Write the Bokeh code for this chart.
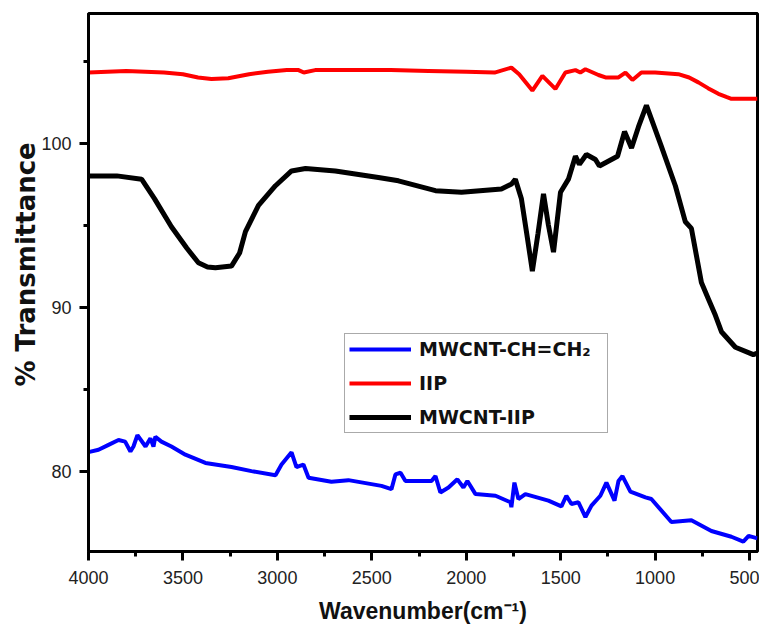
from bokeh.plotting import figure
from bokeh.models import Range1d, Legend, LegendItem, FixedTicker
from bokeh.embed import file_html
from bokeh.resources import INLINE

# ---- data ----
wn_blue = [4000, 3947, 3894, 3841, 3806, 3778, 3762, 3741, 3698, 3672, 3656, 3646, 3614, 3561, 3487,
           3381, 3243, 3137, 3010, 2978, 2925, 2899, 2862, 2835, 2714, 2624, 2449, 2396, 2375, 2348,
           2322, 2184, 2163, 2137, 2094, 2047, 2015, 1994, 1951, 1845, 1766, 1761, 1745, 1724, 1687,
           1565, 1496, 1470, 1443, 1406, 1369, 1337, 1290, 1258, 1215, 1194, 1173, 1131, 1051, 1020,
           914, 808, 702, 596, 533, 505, 458]
t_blue = [81.16, 81.3, 81.6, 81.9, 81.8, 81.2, 81.5, 82.2, 81.5, 82.0, 81.5, 82.1, 81.8, 81.5, 81.0,
          80.5, 80.25, 80.0, 79.75, 80.4, 81.15, 80.25, 80.4, 79.6, 79.35, 79.45, 79.1, 78.9, 79.8, 79.9,
          79.4, 79.4, 79.7, 78.7, 79.0, 79.5, 79.0, 79.4, 78.6, 78.5, 78.1, 77.8, 79.3, 78.3, 78.6,
          78.2, 77.85, 78.5, 78.0, 78.1, 77.2, 77.9, 78.5, 79.3, 78.2, 79.4, 79.7, 78.75, 78.4, 78.3,
          76.9, 77.0, 76.35, 76.0, 75.7, 76.05, 75.9]

wn_red = [4000, 3900, 3800, 3700, 3600, 3500, 3420, 3349, 3260, 3150, 3050, 2950, 2888, 2860, 2800,
          2600, 2400, 2200, 2000, 1850, 1761, 1720, 1650, 1597, 1528, 1475, 1422, 1396, 1369, 1300,
          1263, 1194, 1157, 1120, 1073, 1000, 877, 820, 771, 720, 665, 620, 596, 500, 458]
t_red = [104.3, 104.35, 104.4, 104.35, 104.3, 104.2, 104.0, 103.9, 103.95, 104.2, 104.35, 104.45, 104.45, 104.3, 104.45,
         104.45, 104.45, 104.4, 104.35, 104.3, 104.6, 104.2, 103.2, 104.1, 103.3, 104.3, 104.45, 104.3, 104.5, 104.15,
         104.0, 104.0, 104.3, 103.85, 104.3, 104.3, 104.2, 104.0, 103.7, 103.35, 103.0, 102.8, 102.7, 102.7, 102.7]

wn_black = [4000, 3850, 3719, 3650, 3561, 3480, 3418, 3370, 3328, 3243, 3200, 3169, 3100, 3010, 2925,
            2851, 2693, 2465, 2359, 2163, 2025, 1814, 1760, 1740, 1708, 1680, 1650, 1620, 1591, 1565,
            1538, 1501, 1459, 1422, 1401, 1364, 1316, 1295, 1231, 1199, 1162, 1125, 1088, 1046, 967,
            893, 840, 808, 755, 718, 681, 649, 575, 480, 458]
t_black = [98.0, 98.0, 97.8, 96.6, 94.9, 93.6, 92.7, 92.45, 92.4, 92.5, 93.3, 94.6, 96.2, 97.4, 98.3,
           98.45, 98.3, 97.9, 97.7, 97.1, 97.0, 97.2, 97.5, 97.8, 96.6, 94.5, 92.2, 94.5, 96.9, 95.0,
           93.35, 97.0, 97.8, 99.2, 98.7, 99.3, 99.0, 98.6, 99.0, 99.2, 100.7, 99.7, 101.0, 102.3, 99.8,
           97.4, 95.2, 94.8, 91.5, 90.5, 89.5, 88.5, 87.55, 87.1, 87.2]

labels = ["MWCNT-CH=CH\u2082", "IIP", "MWCNT-IIP"]
x_ticks = [4000, 3500, 3000, 2500, 2000, 1500, 1000, 500]
y_ticks = [80, 90, 100]

FONT = "Liberation Sans"
WIDE = "DejaVu Sans"

p = figure(frame_width=669, frame_height=538, output_backend="svg", toolbar_location=None,
           x_range=Range1d(4000, 458), y_range=Range1d(75.1, 107.9),
           min_border_left=88, min_border_right=2, min_border_top=13, min_border_bottom=70)
p.background_fill_color = "white"
p.border_fill_color = "white"
p.grid.visible = False
p.outline_line_color = "black"
p.outline_line_width = 3

rb = p.line(wn_blue, t_blue, line_color="#0000ff", line_width=4)
rr = p.line(wn_red, t_red, line_color="#ff0000", line_width=4)
rk = p.line(wn_black, t_black, line_color="#000000", line_width=5)

for ax in (p.xaxis[0], p.yaxis[0]):
    ax.axis_line_width = 3
    ax.axis_line_color = "black"
    ax.major_tick_line_width = 3
    ax.minor_tick_line_width = 3
    ax.major_tick_in = 0
    ax.minor_tick_in = 0
    ax.major_tick_out = 9
    ax.minor_tick_out = 5
    ax.major_label_text_font = FONT
    ax.major_label_text_font_size = "18px"
    ax.major_label_text_color = "#222222"
    ax.axis_label_text_font_style = "bold"
    ax.axis_label_text_color = "#111111"

p.xaxis[0].ticker = FixedTicker(ticks=x_ticks, minor_ticks=list(range(750, 4000, 250)))
p.yaxis[0].ticker = FixedTicker(ticks=y_ticks, minor_ticks=[85, 95, 105])
p.xaxis[0].axis_label = "Wavenumber(cm\u207b\u00b9)"
p.yaxis[0].axis_label = "\u00a0\u00a0\u00a0\u00a0% Transmittance"
p.xaxis[0].axis_label_text_font = FONT
p.yaxis[0].axis_label_text_font = WIDE
p.xaxis[0].axis_label_text_font_size = "23px"
p.yaxis[0].axis_label_text_font_size = "26px"
p.xaxis[0].major_label_standoff = 10
p.yaxis[0].major_label_standoff = 8
p.xaxis[0].axis_label_standoff = 11
p.yaxis[0].axis_label_standoff = -3

legend = Legend(items=[LegendItem(label=labels[0], renderers=[rb]),
                       LegendItem(label=labels[1], renderers=[rr]),
                       LegendItem(label=labels[2], renderers=[rk])],
                location=(256, 118))
legend.label_text_font = WIDE
legend.label_text_font_style = "bold"
legend.label_text_font_size = "19px"
legend.label_text_color = "#111111"
legend.glyph_width = 62
legend.glyph_height = 22
legend.label_height = 22
legend.label_width = 184
legend.label_standoff = 8
legend.spacing = 12
legend.padding = 4
legend.margin = 0
legend.border_line_color = "#555555"
legend.border_line_width = 1.5
legend.background_fill_alpha = 1
p.add_layout(legend, "center")

open("out.html", "w").write(file_html(p, INLINE))
